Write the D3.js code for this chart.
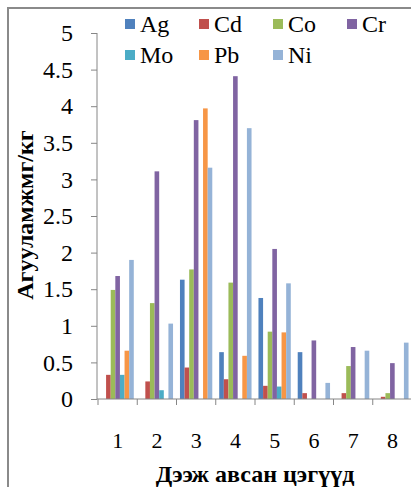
<!DOCTYPE html>
<html>
<head>
<meta charset="utf-8">
<script src="https://cdn.jsdelivr.net/npm/d3@7"></script>
<style>
  html, body { margin: 0; padding: 0; background: #fff; }
  svg { display: block; }
  svg text { font-family: 'Liberation Serif' !important; }
</style>
</head>
<body>
<svg id="chart" width="411" height="487" font-family="Liberation Serif"></svg>
<script>
// sampling points
const points = ['1', '2', '3', '4', '5', '6', '7', '8'];
const seriesNames = ['Ag', 'Cd', 'Co', 'Cr', 'Mo', 'Pb', 'Ni'];
const seriesColors = ['#4F81BD', '#C0504D', '#9BBB59', '#8064A2', '#4BACC6', '#F79646', '#95B3D7'];

// concentrations, mg/kg, one array per element
const ag = [0, 0, 1.63, 0.64, 1.38, 0.64, 0, 0];
const cd = [0.33, 0.24, 0.43, 0.27, 0.18, 0.08, 0.08, 0.03];
const co = [1.49, 1.31, 1.77, 1.59, 0.92, 0, 0.45, 0.08];
const cr = [1.68, 3.11, 3.81, 4.41, 2.05, 0.80, 0.71, 0.49];
const mo = [0.33, 0.12, 0, 0, 0.17, 0, 0, 0];
const pb = [0.66, 0, 3.97, 0.59, 0.91, 0, 0, 0];
const ni = [1.90, 1.03, 3.16, 3.70, 1.58, 0.22, 0.66, 0.77];

const yTicks = [0, 0.5, 1, 1.5, 2, 2.5, 3, 3.5, 4, 4.5, 5];

const values = [ag, cd, co, cr, mo, pb, ni];
const FONT = 'Liberation Serif';

const svg = d3.select('#chart');

// outer chart frame (right/bottom edges fall outside the picture)
svg.append('rect')
    .attr('x', 8).attr('y', 8)
    .attr('width', 420).attr('height', 500)
    .attr('fill', 'none')
    .attr('stroke', '#8a8a8a')
    .attr('stroke-width', 2);

const x = d3.scaleBand().domain(points).range([98, 412]);
const gap = x.bandwidth() * 0.75 / 8.5;
const xs = d3.scaleBand().domain(seriesNames).range([gap, x.bandwidth() - gap]);
const y = d3.scaleLinear().domain([0, 5]).range([399, 33]);

// bars
const rows = [];
seriesNames.forEach((s, si) => {
    points.forEach((p, pi) => rows.push({ s, p, v: values[si][pi], c: seriesColors[si] }));
});

svg.append('g').selectAll('rect')
    .data(rows.filter(d => d.v > 0))
    .join('rect')
    .attr('x', d => x(d.p) + xs(d.s))
    .attr('y', d => y(d.v))
    .attr('width', xs.bandwidth())
    .attr('height', d => y(0) - y(d.v))
    .attr('fill', d => d.c);

// y axis
const yAxis = svg.append('g')
    .attr('transform', 'translate(97,0)')
    .call(d3.axisLeft(y).tickValues(yTicks).tickSize(6).tickPadding(18).tickFormat(d3.format('')));
yAxis.attr('font-family', null).attr('font-size', 24);
yAxis.selectAll('path, line').attr('stroke', '#868686');
yAxis.select('.domain').attr('d', `M0,${y(5)}V${y(0)}`);
yAxis.selectAll('text').attr('fill', '#000');

// x axis: ticks at category boundaries
const xAxisG = svg.append('g');
xAxisG.append('line')
    .attr('x1', 97).attr('x2', 412)
    .attr('y1', y(0)).attr('y2', y(0))
    .attr('stroke', '#868686');
xAxisG.selectAll('line.tick')
    .data(points)
    .join('line')
    .attr('class', 'tick')
    .attr('x1', d => x(d)).attr('x2', d => x(d))
    .attr('y1', y(0)).attr('y2', y(0) + 6)
    .attr('stroke', '#868686');
xAxisG.selectAll('text')
    .data(points)
    .join('text')
    .attr('x', d => x(d) + x.bandwidth() / 2)
    .attr('y', 448)
    .attr('text-anchor', 'middle')
    .attr('font-size', 22)
    .text(d => d);

// axis titles
svg.append('text')
    .attr('transform', 'translate(33,215) rotate(-90)')
    .attr('text-anchor', 'middle')
    .attr('font-size', 24).attr('font-weight', 'bold')
    .text('Агууламжмг/кг');

svg.append('text')
    .attr('x', 255).attr('y', 482)
    .attr('text-anchor', 'middle')
    .attr('font-size', 24).attr('font-weight', 'bold')
    .text('Дээж авсан цэгүүд');

// legend, two rows of four
const legend = svg.append('g').selectAll('g')
    .data(seriesNames)
    .join('g')
    .attr('transform', (d, i) => `translate(${125 + (i % 4) * 74},${19 + Math.floor(i / 4) * 31})`);
legend.append('rect')
    .attr('width', 10).attr('height', 10)
    .attr('fill', (d, i) => seriesColors[i]);
legend.append('text')
    .attr('x', 15).attr('y', 13)
    .attr('font-size', 24)
    .text(d => d);

svg.selectAll('text').style('font-family', FONT, 'important');
</script>
</body>
</html>
